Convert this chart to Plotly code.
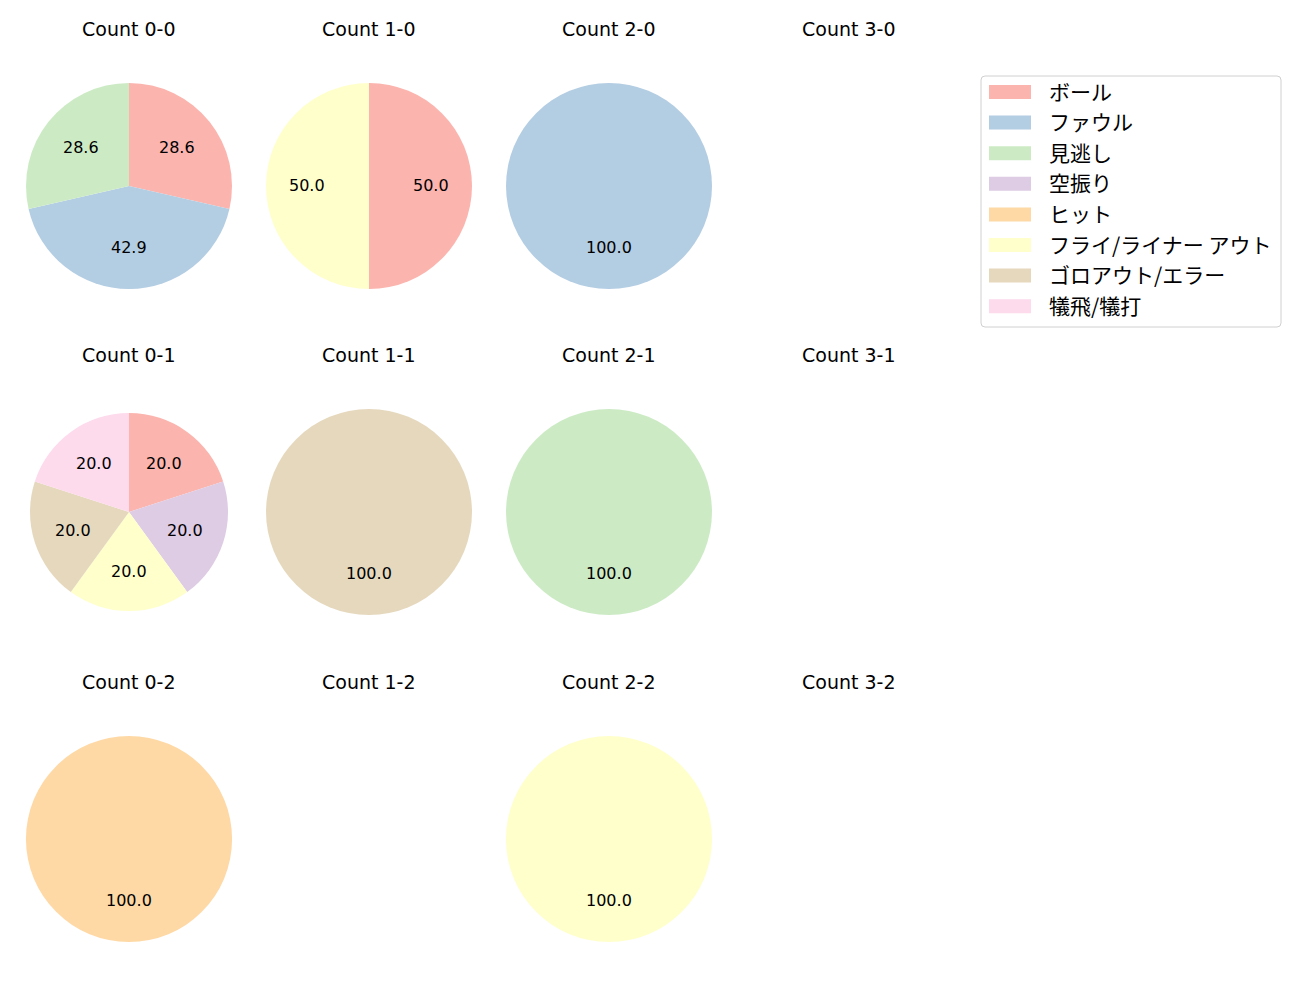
import math
import plotly.graph_objects as go

# ---- data ----
categories = ["ボール", "ファウル", "見逃し", "空振り", "ヒット",
              "フライ/ライナー アウト", "ゴロアウト/エラー", "犠飛/犠打"]
colors = ["#fbb4ae", "#b3cde3", "#ccebc5", "#decbe4", "#fed9a6",
          "#ffffcc", "#e5d8bd", "#fddaec"]

titles = [["Count 0-0", "Count 1-0", "Count 2-0", "Count 3-0"],
          ["Count 0-1", "Count 1-1", "Count 2-1", "Count 3-1"],
          ["Count 0-2", "Count 1-2", "Count 2-2", "Count 3-2"]]

# counts per category for each panel
count_00 = [2, 3, 2, 0, 0, 0, 0, 0]
count_10 = [1, 0, 0, 0, 0, 1, 0, 0]
count_20 = [0, 1, 0, 0, 0, 0, 0, 0]
count_01 = [1, 0, 0, 1, 0, 1, 1, 1]
count_11 = [0, 0, 0, 0, 0, 0, 1, 0]
count_21 = [0, 0, 1, 0, 0, 0, 0, 0]
count_02 = [0, 0, 0, 0, 1, 0, 0, 0]
count_22 = [0, 0, 0, 0, 0, 1, 0, 0]

panels = {(0, 0): count_00, (0, 1): count_10, (0, 2): count_20,
          (1, 0): count_01, (1, 1): count_11, (1, 2): count_21,
          (2, 0): count_02, (2, 2): count_22}

# ---- layout geometry (pixels) ----
W, H = 1300, 1000
col_cx = [129, 369, 609, 849]
row_cy = [186, 512, 839]
row_title_y = [29, 355, 682]
radius_default = 103
radius_special = {(1, 0): 99}

LATIN = "DejaVu Sans, Noto Sans CJK JP"
CJK = "Noto Sans CJK JP"

fig = go.Figure()
annotations = []
shapes = []

for (r, c), vals in panels.items():
    rad = radius_special.get((r, c), radius_default)
    cx, cy = col_cx[c], row_cy[r]
    labs = [categories[i] for i, v in enumerate(vals) if v > 0]
    vs = [v for v in vals if v > 0]
    cols = [colors[i] for i, v in enumerate(vals) if v > 0]
    fig.add_trace(go.Pie(
        labels=labs, values=vs, sort=False, direction="clockwise", rotation=0,
        marker=dict(colors=cols, line=dict(width=0)),
        textinfo="none", hoverinfo="label+percent", showlegend=False,
        domain=dict(x=[(cx - rad) / W, (cx + rad) / W],
                    y=[1 - (cy + rad) / H, 1 - (cy - rad) / H]),
    ))
    total = sum(vs)
    start = 90.0
    for v in vs:
        frac = v / total
        mid = start - frac * 360 / 2
        start -= frac * 360
        tx = cx + 0.6 * rad * math.cos(math.radians(mid))
        ty = cy - 0.6 * rad * math.sin(math.radians(mid))
        annotations.append(dict(
            x=tx / W, y=1 - ty / H, xref="paper", yref="paper",
            text=f"{100 * frac:.1f}", showarrow=False,
            font=dict(family=LATIN, size=16, color="black"),
            xanchor="center", yanchor="middle"))

for r in range(3):
    for c in range(4):
        annotations.append(dict(
            x=col_cx[c] / W, y=1 - row_title_y[r] / H, xref="paper", yref="paper",
            text=titles[r][c], showarrow=False,
            font=dict(family=LATIN, size=19, color="black"),
            xanchor="center", yanchor="middle"))

# ---- manual legend ----
lx0, lx1, ly0, ly1 = 981, 1281, 76, 327
rr = 4
path = (f"M {lx0 + rr},{ly0} L {lx1 - rr},{ly0} Q {lx1},{ly0} {lx1},{ly0 + rr} "
        f"L {lx1},{ly1 - rr} Q {lx1},{ly1} {lx1 - rr},{ly1} L {lx0 + rr},{ly1} "
        f"Q {lx0},{ly1} {lx0},{ly1 - rr} L {lx0},{ly0 + rr} Q {lx0},{ly0} {lx0 + rr},{ly0} Z")


def px_path(p):
    out = []
    for tok in p.split(" "):
        if "," in tok:
            a, b = tok.split(",")
            out.append(f"{float(a) / W},{1 - float(b) / H}")
        else:
            out.append(tok)
    return " ".join(out)


shapes.append(dict(type="path", xref="paper", yref="paper", path=px_path(path),
                   line=dict(color="#d0d0d0", width=1), fillcolor="rgba(255,255,255,0.8)"))

item_y0 = 92
item_dy = 30.6
for i, (lab, col) in enumerate(zip(categories, colors)):
    yc = item_y0 + i * item_dy
    shapes.append(dict(type="rect", xref="paper", yref="paper",
                       x0=989 / W, x1=1031 / W, y0=1 - (yc - 7) / H, y1=1 - (yc + 7) / H,
                       fillcolor=col, line=dict(width=0)))
    annotations.append(dict(x=1047 / W, y=1 - (yc - 1.5) / H, xref="paper", yref="paper",
                            text=lab, showarrow=False, xanchor="left", yanchor="middle",
                            font=dict(family=CJK, size=21, color="black")))

fig.update_layout(
    width=W, height=H, margin=dict(l=0, r=0, t=0, b=0),
    paper_bgcolor="white", plot_bgcolor="white",
    annotations=annotations, shapes=shapes, showlegend=False,
)

fig.write_html("out.html", config={"displayModeBar": False},
               post_script="document.body.style.margin='0';")
